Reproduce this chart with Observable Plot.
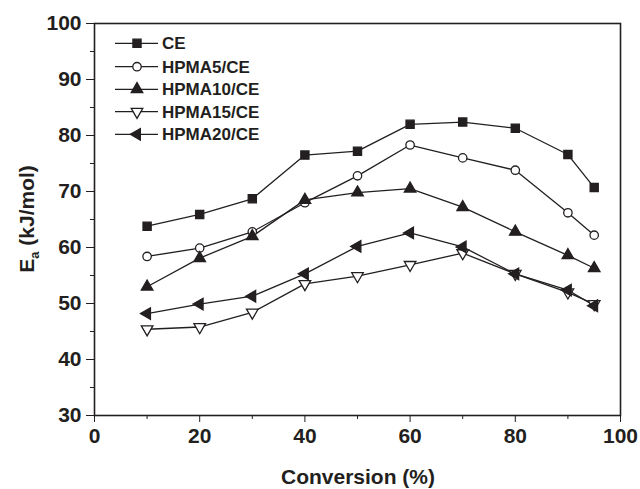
<!DOCTYPE html>
<html>
<head>
<meta charset="utf-8">
<script src="https://cdn.jsdelivr.net/npm/d3@7"></script>
<script src="https://cdn.jsdelivr.net/npm/@observablehq/plot@0.6"></script>
<style>
  html, body { margin: 0; padding: 0; background: #fff; }
  #chart { width: 640px; height: 489px; }
</style>
</head>
<body>
<div id="chart"></div>
<script>
// ---- data ----
const conversion = [10, 20, 30, 40, 50, 60, 70, 80, 90, 95];
const seriesNames = ["CE", "HPMA5/CE", "HPMA10/CE", "HPMA15/CE", "HPMA20/CE"];
const ce      = [63.8, 65.9, 68.7, 76.5, 77.2, 82.0, 82.4, 81.3, 76.6, 70.7];
const hpma5   = [58.4, 59.9, 62.8, 68.0, 72.8, 78.3, 76.0, 73.8, 66.2, 62.2];
const hpma10  = [53.0, 58.1, 62.0, 68.5, 69.8, 70.5, 67.2, 62.8, 58.6, 56.3];
const hpma15  = [45.4, 45.8, 48.4, 53.5, 54.9, 56.9, 59.0, 55.3, 52.0, 49.9];
const hpma20  = [48.2, 49.9, 51.3, 55.3, 60.2, 62.6, 60.1, 55.3, 52.4, 49.6];
const xTicks = [0, 20, 40, 60, 80, 100];
const xMinorTicks = [10, 30, 50, 70, 90];
const yTicks = [30, 40, 50, 60, 70, 80, 90, 100];
const yMinorTicks = [35, 45, 55, 65, 75, 85, 95];

const seriesValues = [ce, hpma5, hpma10, hpma15, hpma20];
const ink = "#231f20";
// styles per series
const styles = [
  {symbol: "square",   fill: ink,    rotate: 0,   r: 4.6},
  {symbol: "circle",   fill: "#fff", rotate: 0,   r: 4.2},
  {symbol: "triangle", fill: ink,    rotate: 0,   r: 4.3},
  {symbol: "triangle", fill: "#fff", rotate: 180, r: 4.3},
  {symbol: "triangle", fill: ink,    rotate: -90, r: 4.3}
];

const data = seriesNames.flatMap((name, i) =>
  conversion.map((x, j) => ({series: name, x, y: seriesValues[i][j]})));

const font = "'Liberation Sans', Arial, sans-serif";

const marks = [
  Plot.axisX({ticks: xTicks, tickSize: 7, tickPadding: 6, fontSize: 21, fontWeight: "bold", label: null, stroke: ink, color: ink}),
  Plot.axisX({ticks: xMinorTicks, tickSize: 4, text: null, label: null, stroke: ink}),
  Plot.axisY({ticks: yTicks, tickSize: 8, tickPadding: 5, fontSize: 21, fontWeight: "bold", label: null, stroke: ink, color: ink}),
  Plot.axisY({ticks: yMinorTicks, tickSize: 4, text: null, label: null, stroke: ink}),
  Plot.frame({stroke: ink, strokeWidth: 1.6}),
  Plot.line(data, {x: "x", y: "y", z: "series", stroke: ink, strokeWidth: 1.3})
];
seriesNames.forEach((name, i) => {
  const s = styles[i];
  marks.push(Plot.dot(data.filter(d => d.series === name), {
    x: "x", y: "y", symbol: s.symbol, r: s.r, fill: s.fill, stroke: ink,
    strokeWidth: 1.3, rotate: s.rotate
  }));
});

const chart = Plot.plot({
  width: 640,
  height: 489,
  marginLeft: 94,
  marginRight: 20,
  marginTop: 23,
  marginBottom: 74,
  x: {domain: [0, 100]},
  y: {domain: [30, 100]},
  style: {fontFamily: font, color: ink, background: "#fff"},
  marks
});

const svg = d3.select(chart);

// axis labels
svg.append("text")
  .attr("x", 358).attr("y", 484)
  .attr("text-anchor", "middle")
  .attr("font-family", font).attr("font-weight", "bold").attr("font-size", 21)
  .attr("fill", ink)
  .text("Conversion (%)");

const yl = svg.append("text")
  .attr("transform", "translate(34,219) rotate(-90)")
  .attr("text-anchor", "middle")
  .attr("font-family", font).attr("font-weight", "bold").attr("font-size", 21)
  .attr("fill", ink);
yl.append("tspan").text("E");
yl.append("tspan").attr("font-size", 13).attr("dy", 5).text("a");
yl.append("tspan").attr("dy", -5).text(" (kJ/mol)");

// legend
const legendRows = [43.3, 66.7, 89.3, 111.7, 134.3];
const lg = svg.append("g").attr("text-anchor", "start");
seriesNames.forEach((name, i) => {
  const y = legendRows[i];
  const s = styles[i];
  lg.append("line").attr("x1", 115).attr("x2", 158).attr("y1", y).attr("y2", y)
    .attr("stroke", ink).attr("stroke-width", 1.3);
  const symType = {square: d3.symbolSquare, circle: d3.symbolCircle, triangle: d3.symbolTriangle}[s.symbol];
  lg.append("path")
    .attr("d", d3.symbol(symType, s.r * s.r * Math.PI)())
    .attr("transform", `translate(137,${y}) rotate(${s.rotate})`)
    .attr("fill", s.fill).attr("stroke", ink).attr("stroke-width", 1.3);
  lg.append("text").attr("x", 162).attr("y", y).attr("dy", "0.36em")
    .attr("text-anchor", "start")
    .attr("font-family", font).attr("font-weight", "bold").attr("font-size", 17)
    .attr("fill", ink).text(name);
});

document.getElementById("chart").appendChild(chart);
</script>
</body>
</html>
